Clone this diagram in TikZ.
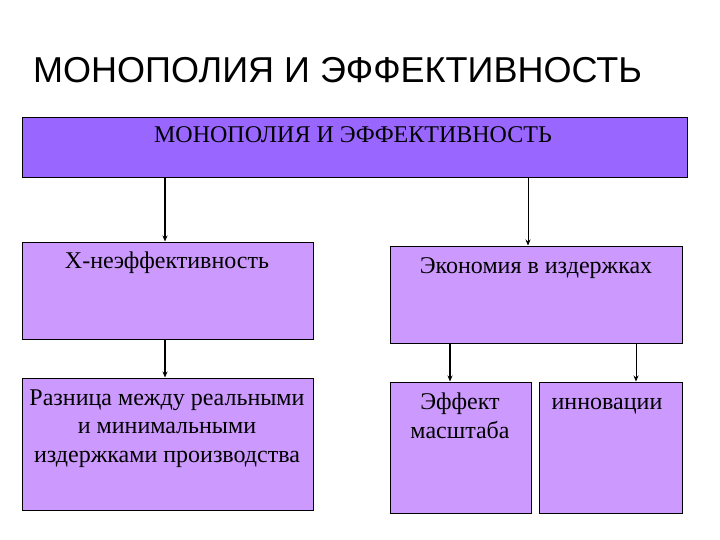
\documentclass[tikz,border=0pt]{standalone}
\usepackage{fontspec}
\setmainfont{Liberation Serif}
\newfontfamily\titlefont{Liberation Sans}
\usetikzlibrary{arrows.meta}
\begin{document}
\begin{tikzpicture}[x=1pt, y=-1pt]
    % Define colours
    \definecolor{headFill}{HTML}{9966FF}
    \definecolor{boxFill}{HTML}{CC99FF}

    % Define styles
    \tikzset{
        headbox/.style={draw=black, fill=headFill, line width=1pt, inner sep=0pt},
        itembox/.style={draw=black, fill=boxFill, line width=1pt, inner sep=0pt},
        boxtext/.style={anchor=base, align=center, inner sep=0pt, font=\fontsize{24}{28.5}\selectfont},
        thickarrow/.style={line width=1.6pt, -{Stealth[length=6pt, width=5pt]}},
        thinarrow/.style={line width=0.8pt, -{Stealth[length=6pt, width=5pt]}}
    }

    % Fix page size
    \useasboundingbox (0,0) rectangle (720,540);

    % Draw slide title
    \node[anchor=base west, inner sep=0pt, font=\titlefont\fontsize{36}{40}\selectfont] (title) at (33,83) {МОНОПОЛИЯ И ЭФФЕКТИВНОСТЬ};

    % Draw boxes
    \node[headbox, minimum width=665pt, minimum height=60pt] (mono) at (354.5,148) {};
    \node[itembox, minimum width=291pt, minimum height=97pt] (xineff) at (167.5,290.5) {};
    \node[itembox, minimum width=292pt, minimum height=97pt] (econ) at (536,294.5) {};
    \node[itembox, minimum width=291pt, minimum height=132pt] (diff) at (167.5,444) {};
    \node[itembox, minimum width=141pt, minimum height=131pt] (scale) at (460.5,447.5) {};
    \node[itembox, minimum width=143pt, minimum height=131pt] (innov) at (610.5,447.5) {};

    % Label the boxes (base = last line)
    \node[boxtext] (monotext) at (353,143) {МОНОПОЛИЯ И ЭФФЕКТИВНОСТЬ};
    \node[boxtext] (xinefftext) at (167,268) {Х-неэффективность};
    \node[boxtext] (econtext) at (536,273) {Экономия в издержках};
    \node[boxtext] (difftext) at (167,462) {Разница между реальными\\и минимальными\\издержками производства};
    \node[boxtext] (scaletext) at (460,438) {Эффект\\масштаба};
    \node[boxtext] (innovtext) at (607,409) {инновации};

    % Define arrow columns
    \coordinate (colA) at (165,0);
    \coordinate (colB) at (528,0);
    \coordinate (colC) at (450,0);
    \coordinate (colD) at (636,0);

    % Draw arrows
    \draw[thickarrow] (mono.south -| colA) -- (xineff.north -| colA);
    \draw[thinarrow] (mono.south -| colB) -- (econ.north -| colB);
    \draw[thickarrow] (xineff.south -| colA) -- (diff.north -| colA);
    \draw[thickarrow] (econ.south -| colC) -- (scale.north -| colC);
    \draw[thinarrow] (econ.south -| colD) -- (innov.north -| colD);

\end{tikzpicture}
\end{document}
